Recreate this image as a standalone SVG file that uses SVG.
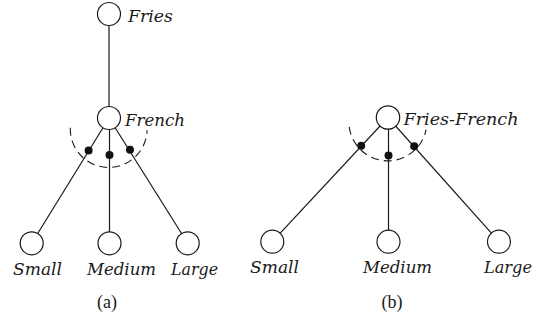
<svg xmlns="http://www.w3.org/2000/svg" width="537" height="320" viewBox="0 0 537 320">
  <style>
    .edge { stroke: #1a1a1a; stroke-width: 1.2; fill: none; }
    .arc { stroke: #1a1a1a; stroke-width: 1.1; fill: none; stroke-dasharray: 8 5; }
    .node { fill: #ffffff; stroke: #1a1a1a; stroke-width: 1.2; }
    .dot { fill: #111111; }
    .lbl { font-family: "DejaVu Serif", serif; font-style: italic; font-size: 16px; fill: #1a1a1a; }
    .cap { font-family: "Liberation Serif", "DejaVu Serif", serif; font-size: 18px; fill: #1a1a1a; text-anchor: middle; }
  </style>

  <!-- connectors -->
  <g id="connectors">
    <!-- panel (a) -->
    <line class="edge" x1="109" y1="14" x2="109" y2="118"/>
    <line class="edge" x1="109" y1="118" x2="31.7" y2="243.3"/>
    <line class="edge" x1="109.5" y1="118" x2="109.5" y2="243.3"/>
    <line class="edge" x1="109" y1="118" x2="187.7" y2="243.3"/>
    <path class="arc" d="M70.3,127.8 A38,38 0 0 0 147.1,130.3"/>
    <circle class="dot" cx="88.6" cy="150.5" r="4"/>
    <circle class="dot" cx="109.5" cy="155" r="4"/>
    <circle class="dot" cx="130" cy="149.8" r="4"/>

    <!-- panel (b) -->
    <line class="edge" x1="388" y1="117.5" x2="272.3" y2="241.7"/>
    <line class="edge" x1="388.5" y1="117.5" x2="388.5" y2="241.7"/>
    <line class="edge" x1="388" y1="117.5" x2="499" y2="241.7"/>
    <path class="arc" d="M349.2,126.9 A39,39 0 0 0 426.1,129.6"/>
    <circle class="dot" cx="361.2" cy="145.8" r="4"/>
    <circle class="dot" cx="388.5" cy="155.5" r="4"/>
    <circle class="dot" cx="414.2" cy="146.3" r="4"/>
  </g>

  <!-- panel (a) nodes -->
  <g id="fries">
    <circle class="node" cx="109" cy="14" r="11.5"/>
    <text class="lbl" x="128" y="21.7" textLength="45" lengthAdjust="spacingAndGlyphs">Fries</text>
  </g>
  <g id="french">
    <circle class="node" cx="109" cy="118" r="11.5"/>
    <text class="lbl" x="125" y="126" textLength="60" lengthAdjust="spacingAndGlyphs">French</text>
  </g>
  <g id="small-a">
    <circle class="node" cx="31.7" cy="243.3" r="11.5"/>
    <text class="lbl" x="13" y="274.5" textLength="49" lengthAdjust="spacingAndGlyphs">Small</text>
  </g>
  <g id="medium-a">
    <circle class="node" cx="109.5" cy="243.3" r="11.5"/>
    <text class="lbl" x="87" y="274.5" textLength="69" lengthAdjust="spacingAndGlyphs">Medium</text>
  </g>
  <g id="large-a">
    <circle class="node" cx="187.7" cy="243.3" r="11.5"/>
    <text class="lbl" x="171" y="274.5" textLength="47" lengthAdjust="spacingAndGlyphs">Large</text>
  </g>
  <text class="cap" x="107" y="308">(a)</text>

  <!-- panel (b) nodes -->
  <g id="fries-french">
    <circle class="node" cx="388" cy="117.5" r="11.7"/>
    <text class="lbl" x="403.5" y="125" textLength="115" lengthAdjust="spacingAndGlyphs">Fries-French</text>
  </g>
  <g id="small-b">
    <circle class="node" cx="272.3" cy="241.7" r="11.5"/>
    <text class="lbl" x="250" y="272.7" textLength="49" lengthAdjust="spacingAndGlyphs">Small</text>
  </g>
  <g id="medium-b">
    <circle class="node" cx="388.5" cy="241.7" r="11.5"/>
    <text class="lbl" x="363" y="272.7" textLength="69" lengthAdjust="spacingAndGlyphs">Medium</text>
  </g>
  <g id="large-b">
    <circle class="node" cx="499" cy="241.7" r="11.5"/>
    <text class="lbl" x="484" y="272.7" textLength="48" lengthAdjust="spacingAndGlyphs">Large</text>
  </g>
  <text class="cap" x="392" y="308">(b)</text>
</svg>
